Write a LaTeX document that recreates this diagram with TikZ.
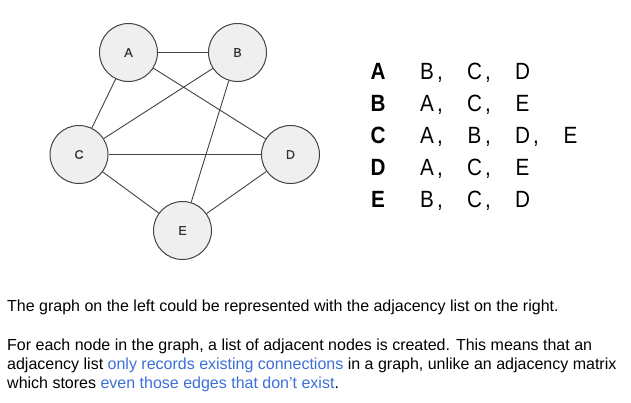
\documentclass[tikz,border=0pt]{standalone}
\usepackage{fontspec}
\setmainfont{Liberation Sans}
\newfontfamily\listfont[FakeStretch=0.88]{Liberation Sans}
\newfontfamily\labelfont[FakeBold=0.6]{Liberation Sans}
\definecolor{nodefill}{HTML}{EFEFEF}
\definecolor{nodeline}{HTML}{434343}
\definecolor{linkblue}{HTML}{3C6FD8}
\begin{document}
\begin{tikzpicture}[x=1pt,y=-1pt,
  vertex/.style={circle,draw=nodeline,fill=nodefill,line width=1pt,minimum size=58pt,inner sep=0pt,font=\labelfont\fontsize{12.5}{13}\selectfont,text=black!80},
  edge/.style={draw=nodeline,line width=0.9pt},
  head/.style={anchor=base,font=\listfont\bfseries\fontsize{23.5}{26}\selectfont,inner sep=0pt},
  item/.style={anchor=base,font=\listfont\fontsize{23.5}{26}\selectfont,inner sep=0pt},
  body/.style={anchor=base west,inner sep=0pt,font=\fontsize{16}{19}\selectfont}]
\useasboundingbox (0,0) rectangle (631,402);
\fill[white] (0,0) rectangle (631,402);
% graph
\node[vertex] (A) at (128.5,52.5) {A};
\node[vertex] (B) at (237.5,52.5) {B};
\node[vertex] (C) at (79,154.5) {C};
\node[vertex] (D) at (290.5,154.5) {D};
\node[vertex] (E) at (182.5,230.5) {E};
\draw[edge] (A) -- (B);
\draw[edge] (A) -- (C);
\draw[edge] (A) -- (D);
\draw[edge] (B) -- (C);
\draw[edge] (B) -- (E);
\draw[edge] (C) -- (D);
\draw[edge] (C) -- (E);
\draw[edge] (D) -- (E);
% adjacency list
\node[head] (hA) at (378,79) {A};
\node[item] (lA1) at (427,79) {B};  \node[item] (cA1) at (440,79) {,};
\node[item] (lA2) at (474.5,79) {C}; \node[item] (cA2) at (488,79) {,};
\node[item] (lA3) at (522.5,79) {D};
\node[head] (hB) at (378,111) {B};
\node[item] (lB1) at (427,111) {A};  \node[item] (cB1) at (440,111) {,};
\node[item] (lB2) at (474.5,111) {C}; \node[item] (cB2) at (488,111) {,};
\node[item] (lB3) at (522.5,111) {E};
\node[head] (hC) at (378,143) {C};
\node[item] (lC1) at (427,143) {A};  \node[item] (cC1) at (440,143) {,};
\node[item] (lC2) at (474.5,143) {B}; \node[item] (cC2) at (488,143) {,};
\node[item] (lC3) at (522.5,143) {D}; \node[item] (cC3) at (536,143) {,};
\node[item] (lC4) at (570.5,143) {E};
\node[head] (hD) at (378,175) {D};
\node[item] (lD1) at (427,175) {A};  \node[item] (cD1) at (440,175) {,};
\node[item] (lD2) at (474.5,175) {C}; \node[item] (cD2) at (488,175) {,};
\node[item] (lD3) at (522.5,175) {E};
\node[head] (hE) at (378,207) {E};
\node[item] (lE1) at (427,207) {B};  \node[item] (cE1) at (440,207) {,};
\node[item] (lE2) at (474.5,207) {C}; \node[item] (cE2) at (488,207) {,};
\node[item] (lE3) at (522.5,207) {D};
% text
\node[body] (t1) at (7,311.5) {The graph on the left could be represented with the adjacency list on the right.};
\node[body] (t2) at (7,350) {For each node in the graph, a list of adjacent nodes is created. This means that an};
\node[body] (t3) at (7,369) {adjacency list \textcolor{linkblue}{only records existing connections} in a graph, unlike an adjacency matrix};
\node[body] (t4) at (7,388) {which stores \textcolor{linkblue}{even those edges that don’t exist}.};
\end{tikzpicture}
\end{document}
